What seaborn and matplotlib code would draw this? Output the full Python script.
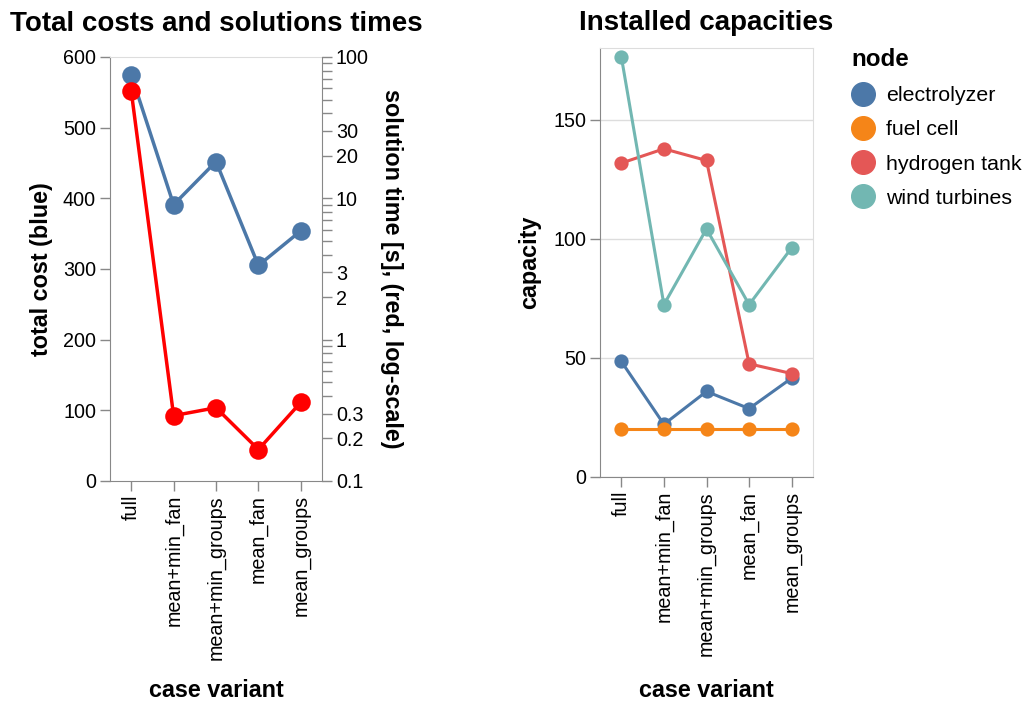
import pandas as pd
import seaborn as sns
import matplotlib.pyplot as plt
from matplotlib.lines import Line2D
from matplotlib.ticker import FixedLocator, NullFormatter


cases = ["full", "mean+min_fan", "mean+min_groups", "mean_fan", "mean_groups"]
total_cost = [575, 391, 452, 305, 354]
solution_time = [57.6, 0.29, 0.33, 0.167, 0.36]

nodes = ["electrolyzer", "fuel cell", "hydrogen tank", "wind turbines"]
electrolyzer = [48.5, 22.1, 35.9, 28.7, 41.5]
fuel_cell = [20.3, 20.3, 20.3, 20.3, 20.3]
hydrogen_tank = [131.7, 137.7, 132.8, 47.5, 43.4]
wind_turbines = [176.4, 72.3, 104.1, 72.3, 96.2]
node_colors = ["#4c78a8", "#f58518", "#e45756", "#72b7b2"]

time_major = [0.1, 0.2, 0.3, 1, 2, 3, 10, 20, 30, 100]
time_labels = ["0.1", "0.2", "0.3", "1", "2", "3", "10", "20", "30", "100"]
time_minor = [0.4, 0.5, 0.6, 0.7, 0.8, 0.9, 4, 5, 6, 7, 8, 9, 40, 50, 60, 70, 80, 90]

cap_df = pd.DataFrame({
    "case": cases * 4,
    "node": [n for n in nodes for _ in cases],
    "capacity": electrolyzer + fuel_cell + hydrogen_tank + wind_turbines,
})

sns.set_style("white")
plt.rcParams["font.family"] = ["Liberation Sans", "DejaVu Sans"]
plt.rcParams["text.color"] = "black"
plt.rcParams["axes.labelcolor"] = "black"
plt.rcParams["xtick.labelcolor"] = "black"
plt.rcParams["ytick.labelcolor"] = "black"

AXIS = "#888888"
FRAME = "#dddddd"
TICK_FS = 14.2
LABEL_FS = 16.8
TITLE_FS = 20

fig = plt.figure(figsize=(10.27, 7.04), dpi=100)
W, H = 1027, 704

# left chart: total cost + solution time
ax1 = fig.add_axes([110 / W, 1 - 481 / H, 212 / W, 424 / H])
sns.pointplot(x=cases, y=total_cost, order=cases, color="#4c78a8",
              markersize=11.5, linewidth=2.5, errorbar=None, ax=ax1)
ax1.set_xlim(-0.5, 4.5)
ax1.set_ylim(0, 600)
ax1.set_yticks([0, 100, 200, 300, 400, 500, 600])

ax2 = ax1.twinx()
ax2.set_yscale("log")
sns.pointplot(x=cases, y=solution_time, order=cases, color="#ff0000",
              markersize=11.5, linewidth=2.5, errorbar=None, ax=ax2)
ax2.set_xlim(-0.5, 4.5)
ax2.set_ylim(0.1, 100)
ax2.yaxis.set_major_locator(FixedLocator(time_major))
ax2.set_yticklabels(time_labels)
ax2.yaxis.set_minor_locator(FixedLocator(time_minor))
ax2.yaxis.set_minor_formatter(NullFormatter())

for sp in ["left", "bottom"]:
    ax1.spines[sp].set_color(AXIS)
ax1.spines["top"].set_color(FRAME)
ax1.spines["right"].set_visible(False)
for sp in ["left", "bottom", "top"]:
    ax2.spines[sp].set_visible(False)
ax2.spines["right"].set_color(AXIS)

ax1.tick_params(axis="both", color=AXIS, length=7, width=1, labelsize=TICK_FS, pad=3,
                bottom=True, left=True)
ax2.tick_params(axis="y", which="both", color=AXIS, length=7, width=1,
                labelsize=TICK_FS, pad=3, right=True)
ax1.set_xticks(range(len(cases)))
ax1.set_xticklabels(cases, rotation=90)

ax1.set_title("Total costs and solutions times", fontsize=TITLE_FS, fontweight="bold", pad=19)
ax1.set_xlabel("case variant", fontsize=LABEL_FS, fontweight="bold")
ax1.set_ylabel("total cost (blue)", fontsize=LABEL_FS, fontweight="bold")
ax2.set_ylabel("solution time [s], (red, log-scale)", fontsize=LABEL_FS,
               fontweight="bold", rotation=-90)
ax1.xaxis.set_label_coords(0.5, -0.493)
ax1.xaxis.label.set_va("center")
ax1.yaxis.set_label_coords(-0.321, 0.5)
ax1.yaxis.label.set_va("center")
ax2.yaxis.set_label_coords(1.33, 0.5)
ax2.yaxis.label.set_va("center")

# right chart: installed capacities
ax3 = fig.add_axes([600 / W, 1 - 477 / H, 213 / W, 429 / H])
sns.pointplot(data=cap_df, x="case", y="capacity", hue="node", hue_order=nodes,
              order=cases, palette=node_colors, markersize=8.6, linewidth=2.2,
              errorbar=None, legend=False, ax=ax3)
ax3.set_xlim(-0.5, 4.5)
ax3.set_ylim(0, 180)
ax3.set_yticks([0, 50, 100, 150])
ax3.yaxis.grid(True, color=FRAME, lw=1)
ax3.set_axisbelow(True)
for sp in ["left", "bottom"]:
    ax3.spines[sp].set_color(AXIS)
for sp in ["top", "right"]:
    ax3.spines[sp].set_color(FRAME)
ax3.tick_params(axis="both", color=AXIS, length=7, width=1, labelsize=TICK_FS, pad=3,
                bottom=True, left=True)
ax3.set_xticks(range(len(cases)))
ax3.set_xticklabels(cases, rotation=90)

ax3.set_title("Installed capacities", fontsize=TITLE_FS, fontweight="bold", pad=13)
ax3.set_xlabel("case variant", fontsize=LABEL_FS, fontweight="bold")
ax3.set_ylabel("capacity", fontsize=LABEL_FS, fontweight="bold")
ax3.xaxis.set_label_coords(0.5, -0.497)
ax3.xaxis.label.set_va("center")
ax3.yaxis.set_label_coords(-0.329, 0.5)
ax3.yaxis.label.set_va("center")

handles = [Line2D([], [], marker="o", ls="", markersize=17, color=c) for c in node_colors]
fig.legend(handles, nodes, title="node", loc="upper left",
           bbox_to_anchor=(851 / W, 1 - 48 / H), frameon=False, fontsize=15.4,
           title_fontproperties={"weight": "bold", "size": 17.4}, alignment="left",
           handlelength=1.12, handletextpad=0.51, labelspacing=0.71,
           borderaxespad=0, borderpad=0)

fig.savefig("out.png", dpi=100)
